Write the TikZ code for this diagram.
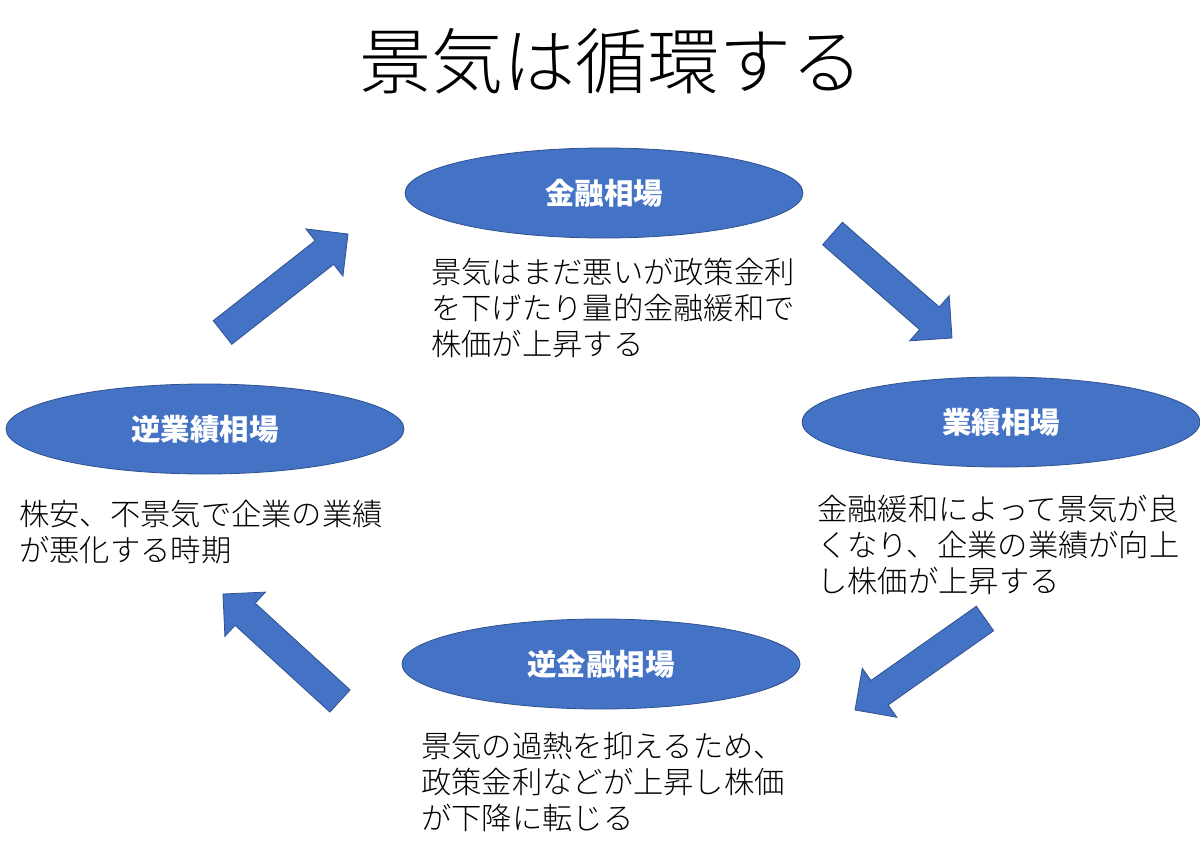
\documentclass[tikz,border=0pt]{standalone}
\usepackage{fontspec}
\setmainfont{Noto Sans CJK JP}
\newfontfamily\lightjp{Noto Sans CJK JP Light}
\usetikzlibrary{shapes.geometric,calc}
\definecolor{blu}{HTML}{4472C4}
\definecolor{blub}{HTML}{2F528F}
\tikzset{
  ell/.style={ellipse, fill=blu, draw=blub, line width=0.8pt, inner sep=0pt,
    minimum width=398pt, minimum height=90pt, text=white,
    font=\fontsize{29.5}{34}\selectfont\bfseries},
  body/.style={anchor=north west, inner sep=0pt, align=left,
    font=\lightjp\fontsize{30.3}{36}\selectfont},
  barrow/.style={fill=blu, draw=blub, line width=0.8pt, line join=miter},
}
\newcommand\blockarrow[2]{%
  \coordinate (hb) at ($(#2)!30pt!(#1)$);
  \draw[barrow] ($(#1)!15pt!90:(#2)$) -- ($(hb)!15pt!90:(#2)$) -- ($(hb)!30pt!90:(#2)$)
    -- (#2) -- ($(hb)!30pt!-90:(#2)$) -- ($(hb)!15pt!-90:(#2)$) -- ($(#1)!15pt!-90:(#2)$) -- cycle;}
\begin{document}
\begin{tikzpicture}[x=1pt,y=-1pt]
\useasboundingbox (0,0) rectangle (1200,854);
\fill[white] (0,0) rectangle (1200,854);
% title
\node[anchor=north, inner sep=0pt, font=\lightjp\fontsize{72}{80}\selectfont] (title) at (611,28) {景気は循環する};
% ellipses
\node[ell] (kin) at (604,193) {金融相場};
\node[ell] (gyo) at (1001,422) {業績相場};
\node[ell] (gyak) at (205,429) {逆業績相場};
\node[ell] (gkin) at (601,664) {逆金融相場};
% texts
\node[body] (tkin) at (431,258) {景気はまだ悪いが政策金利\\を下げたり量的金融緩和で\\株価が上昇する};
\node[body] (tgyo) at (817,495) {金融緩和によって景気が良\\くなり、企業の業績が向上\\し株価が上昇する};
\node[body] (tgyak) at (19,500) {株安、不景気で企業の業績\\が悪化する時期};
\node[body] (tgkin) at (421,732) {景気の過熱を抑えるため、\\政策金利などが上昇し株価\\が下降に転じる};
% arrows
\coordinate (a1t) at (222.5,332.5); \coordinate (a1h) at (348,234);
\coordinate (a2t) at (832.5,233.5); \coordinate (a2h) at (952,338);
\coordinate (a3t) at (985,618.5);   \coordinate (a3h) at (855,710);
\coordinate (a4t) at (340,701);     \coordinate (a4h) at (223,594);
\blockarrow{a1t}{a1h}
\blockarrow{a2t}{a2h}
\blockarrow{a3t}{a3h}
\blockarrow{a4t}{a4h}
\end{tikzpicture}
\end{document}
